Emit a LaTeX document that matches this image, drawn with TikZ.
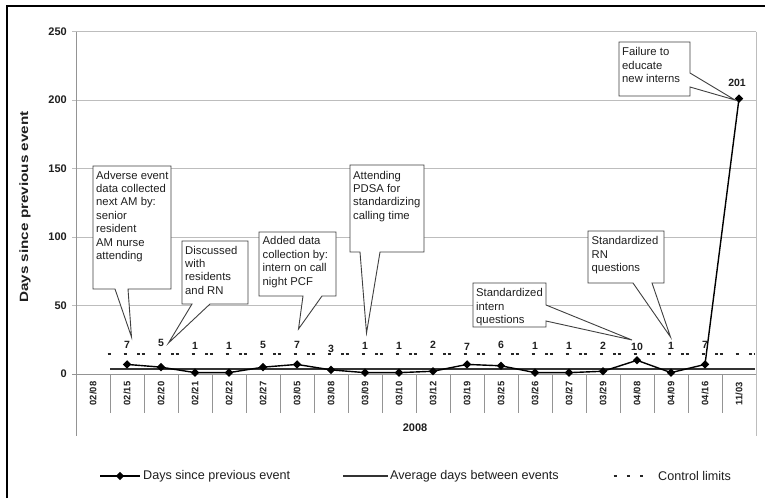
\documentclass[tikz,border=0pt]{standalone}
\usepackage{fontspec}
\setmainfont{Liberation Sans}
\usetikzlibrary{shapes.geometric}
\definecolor{gridc}{gray}{0.74}
\definecolor{axisc}{gray}{0.58}
\definecolor{txt}{gray}{0.12}
\begin{document}
\begin{tikzpicture}[x=1pt,y=-1pt,
  gridline/.style={draw=gridc,line width=1pt},
  axisline/.style={draw=axisc,line width=1pt},
  series/.style={draw=black,line width=1.4pt,line join=round},
  marker/.style={diamond,fill=black,draw=none,inner sep=0pt,minimum size=8.5pt},
  avgline/.style={draw=black!80,line width=1.5pt},
  ctrlline/.style={draw=black!85,line width=1.6pt,dash pattern=on 3pt off 13pt on 3pt off 10.5pt on 3pt off 1.5pt},
  datalbl/.style={font=\fontsize{10.5}{12}\selectfont\bfseries,inner sep=0pt,text=txt},
  ytick/.style={font=\fontsize{11}{13}\selectfont\bfseries,anchor=east,inner sep=0pt,text=txt},
  xlbl/.style={font=\fontsize{9.4}{10}\selectfont\bfseries,rotate=90,inner sep=0pt,text=txt},
  calloutbox/.style={draw=black!75,line width=0.9pt,fill=white,line join=miter},
  callouttext/.style={anchor=north west,inner sep=0pt,align=left,font=\fontsize{11.3}{13.4}\selectfont,text=txt},
  legendtext/.style={anchor=west,inner sep=0pt,font=\fontsize{12.6}{15}\selectfont,text=txt},
]
\useasboundingbox (0,0) rectangle (765,498);
\fill[white] (0,0) rectangle (765,498);
% outer frame
\draw[line width=1.5pt] (7,498) -- (7,6) -- (765,6);
% gridlines
\foreach \v in {50,100,...,250} \draw[gridline] (72,{374-1.37*\v}) -- (756,{374-1.37*\v});
\draw[gridline] (756,31.5) -- (756,436);
% axes
\draw[axisline] (76,31.5) -- (76,436);
\draw[axisline] (72,374) -- (756,374);
\foreach \k in {1,...,19} \draw[axisline] ({76+34*\k},374) -- ({76+34*\k},413);
% y tick labels
\foreach \v in {0,50,...,250} \node[ytick] (yt\v) at (67,{374-1.37*\v}) {\v};
% y title
\node[rotate=90,inner sep=0pt,text=txt] (ytitle) at (25,207) {\scalebox{1.27}[1]{\fontsize{12}{14}\selectfont\bfseries Days since previous event}};
% category labels
\foreach \d [count=\k from 0] in {02/08,02/15,02/20,02/21,02/22,02/27,03/05,03/08,03/09,03/10,03/12,03/19,03/25,03/26,03/27,03/29,04/08,04/09,04/16,11/03}
  \node[xlbl] (xl\k) at ({93+34*\k},393.5) {\d};
\node[font=\fontsize{11}{13}\selectfont\bfseries,inner sep=0pt,text=txt] (year) at (415,428) {2008};
% average and control lines
\draw[avgline] (110,369) -- (755,369);
\draw[ctrlline] (107.5,354) -- (754,354);
% series
\foreach \v [count=\i] in {7,5,1,1,5,7,3,1,1,2,7,6,1,1,2,10,1,7,201}
  \node[marker] (m\i) at ({93+34*\i},{374-1.37*\v}) {};
\draw[series] (m1.center) foreach \i in {2,...,19} {-- (m\i.center)};
\foreach \v/\yy [count=\i] in {7/345,5/343,1/345.5,1/345.5,5/345,7/344.5,3/348.5,1/345.5,1/345.5,2/345,7/346.5,6/345,1/345.5,1/345.5,2/345.5,10/346.5,1/345.5,7/345}
  \node[datalbl] (l\i) at ({93+34*\i},\yy) {\v};
\node[datalbl] (l19) at (737,82.7) {201};
% callouts
\draw[calloutbox] (93,166) -- (171,166) -- (171,289) -- (128,289) -- (131.5,337) -- (115,289) -- (93,289) -- cycle;
\node[callouttext] (c1) at (96,170.8) {Adverse event\\data collected\\next AM by:\\senior\\resident\\AM nurse\\attending};
\draw[calloutbox] (182,241) -- (248,241) -- (248,304) -- (210,304) -- (168.5,343) -- (192,304) -- (182,304) -- cycle;
\node[callouttext] (c2) at (185,245.8) {Discussed\\with\\residents\\and RN};
\draw[calloutbox] (259,232) -- (336,232) -- (336,296) -- (322,296) -- (298.5,329) -- (303,296) -- (259,296) -- cycle;
\node[callouttext] (c3) at (262.5,236.5) {Added data\\collection by:\\intern on call\\night PCF};
\draw[calloutbox] (350,165) -- (424,165) -- (424,252) -- (380,252) -- (366.5,333) -- (360,252) -- (350,252) -- cycle;
\node[callouttext] (c4) at (353,170.8) {Attending\\PDSA for\\standardizing\\calling time};
\draw[calloutbox] (473,283) -- (546,283) -- (546,305) -- (632,340) -- (546,321) -- (546,327) -- (473,327) -- cycle;
\node[callouttext] (c5) at (476,288.5) {Standardized\\intern\\questions};
\draw[calloutbox] (588,231) -- (664,231) -- (664,283) -- (652,283) -- (670.5,337) -- (633,283) -- (588,283) -- cycle;
\node[callouttext] (c6) at (591.5,236.5) {Standardized\\RN\\questions};
\draw[calloutbox] (619,42) -- (690,42) -- (690,73) -- (735,100) -- (690,87) -- (690,96) -- (619,96) -- cycle;
\node[callouttext] (c7) at (622,47.5) {Failure to\\educate\\new interns};
% legend
\coordinate (la1) at (100,476); \coordinate (lb1) at (140,476);
\draw[series] (la1) -- (lb1);
\node[marker] (lm1) at (120,476) {};
\node[legendtext] (lt1) at (143,476) {Days since previous event};
\coordinate (la2) at (343,476); \coordinate (lb2) at (388,476);
\draw[avgline] (la2) -- (lb2);
\node[legendtext] (lt2) at (390,476) {Average days between events};
\coordinate (la3) at (613.5,476); \coordinate (lb3) at (643.5,476);
\draw[draw=black!85,line width=1.6pt,dash pattern=on 3pt off 10.3pt] (la3) -- (lb3);
\node[legendtext] (lt3) at (658,476) {Control limits};
\end{tikzpicture}
\end{document}
